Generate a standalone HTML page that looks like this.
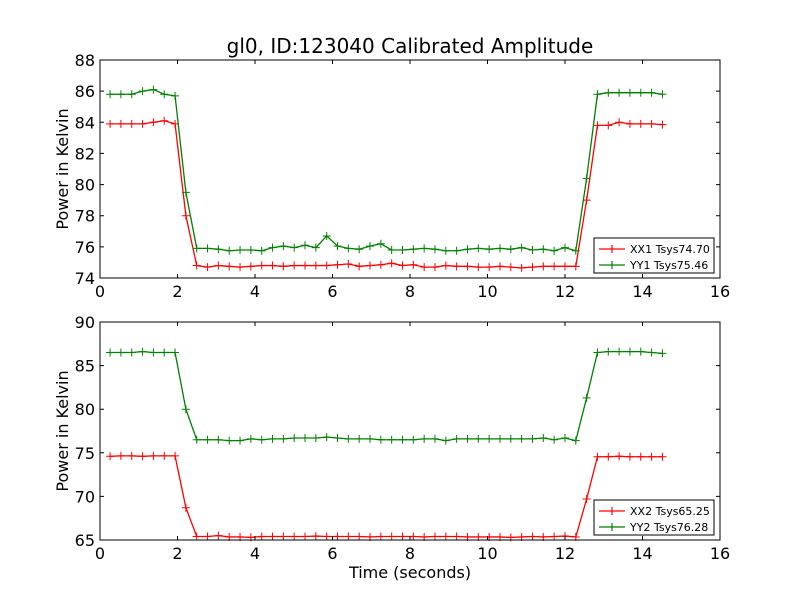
<!DOCTYPE html>
<html><head><meta charset="utf-8"><style>
body{margin:0;background:#fff;}
svg{display:block;font-family:"DejaVu Sans","Liberation Sans",sans-serif;}
</style></head><body>
<svg id="chart" width="800" height="600" viewBox="0 0 800 600"></svg>
<script>
const t0 = 0.26, dt = 0.2795;
const xx1 = [83.9,83.9,83.9,83.9,84.0,84.1,83.9, 78.0,
 74.8,74.7,74.8,74.75,74.7,74.75,74.8,74.8,74.75,74.8,
 74.8,74.8,74.8,74.85,74.9,74.75,74.8,74.85,74.95,74.8,
 74.85,74.7,74.7,74.8,74.75,74.75,74.7,74.7,74.75,74.7,
 74.65,74.7,74.75,74.75,74.75,74.75,
 79.0, 83.8,83.8,84.0,83.9,83.9,83.9,83.85];
const yy1 = [85.8,85.8,85.8,86.0,86.1,85.8,85.7, 79.5,
 75.9,75.9,75.85,75.75,75.8,75.8,75.75,75.95,76.05,75.95,76.1,75.95,
 76.7,
 76.05,75.9,75.85,76.05,76.2,75.8,75.8,75.85,75.9,75.85,
 75.75,75.75,75.85,75.9,75.85,75.9,75.85,75.95,75.8,75.85,
 75.75,75.95,75.75,
 80.4, 85.8,85.9,85.9,85.9,85.9,85.9,85.8];
const xx2 = [74.6,74.65,74.65,74.6,74.65,74.65,74.65, 68.7,
 65.4,65.4,65.5,65.35,65.35,65.3,65.4,65.4,65.4,65.4,
 65.4,65.45,65.4,65.4,65.4,65.4,65.35,65.4,65.4,65.4,
 65.4,65.35,65.4,65.4,65.4,65.35,65.35,65.35,65.35,65.3,
 65.35,65.4,65.35,65.4,65.45,65.35,
 69.7, 74.55,74.55,74.6,74.55,74.55,74.55,74.55];
const yy2 = [86.5,86.5,86.5,86.6,86.5,86.5,86.5, 80.0,
 76.5,76.5,76.5,76.4,76.4,76.6,76.5,76.6,76.6,76.7,
 76.7,76.7,76.8,76.7,76.6,76.6,76.6,76.5,76.5,76.5,
 76.5,76.6,76.6,76.4,76.6,76.6,76.6,76.6,76.6,76.6,
 76.6,76.6,76.7,76.5,76.7,76.4,
 81.3, 86.5,86.6,86.6,86.6,86.6,86.5,86.4];
const xTicks = [0,2,4,6,8,10,12,14,16];
const yTicks1 = [74,76,78,80,82,84,86,88];
const yTicks2 = [65,70,75,80,85,90];
const legend1 = ["XX1 Tsys74.70","YY1 Tsys75.46"];
const legend2 = ["XX2 Tsys65.25","YY2 Tsys76.28"];

const svg = document.getElementById('chart');
const NS = 'http://www.w3.org/2000/svg';
function mk(tag, attrs, parent){const e=document.createElementNS(NS,tag);for(const k in attrs)e.setAttribute(k,attrs[k]);(parent||svg).appendChild(e);return e;}

function panel(top, bottom, ymin, ymax, yTicks, s1, s2, leg, name){
  const L=100,R=720;
  const g = mk('g',{});
  
  
  const xs = v => L + (v-0)/(16-0)*(R-L);
  const ys = v => bottom - (v-ymin)/(ymax-ymin)*(bottom-top);
  [[s1,'#ff0000','xx'],[s2,'#008000','yy']].forEach(([s,c,nm])=>{
    const pts = s.map((v,i)=>xs(t0+i*dt).toFixed(2)+','+ys(v).toFixed(2)).join(' ');
    const pl = mk('polyline',{points:pts,fill:'none',stroke:c,'stroke-width':1.3},g);
    
    
    s.forEach((v,i)=>{
      const x=xs(t0+i*dt), y=ys(v);
      const m = mk('path',{d:`M${x-4} ${y}H${x+4}M${x} ${y-4}V${y+4}`,stroke:c,'stroke-width':1},g);
      
      
    });
  });
  const frame = mk('rect',{x:L,y:top,width:R-L,height:bottom-top,fill:'none',stroke:'#000','stroke-width':1},g);
  
  
  xTicks.forEach(v=>{
    const x=xs(v);
    mk('path',{d:`M${x} ${bottom}V${bottom-4}M${x} ${top}V${top+4}`,stroke:'#000'},g);
    const t=mk('text',{x:x,y:bottom+19,'text-anchor':'middle','font-size':16},g);
    t.textContent=v;
    
    
  });
  yTicks.forEach(v=>{
    const y=ys(v);
    mk('path',{d:`M${L} ${y}H${L+4}M${R} ${y}H${R-4}`,stroke:'#000'},g);
    const t=mk('text',{x:L-5,y:y+6,'text-anchor':'end','font-size':16},g);
    t.textContent=v;
    
    
  });
  const yl=mk('text',{x:0,y:0,'text-anchor':'middle','font-size':16,transform:`translate(68,${(top+bottom)/2}) rotate(-90)`},g);
  yl.textContent='Power in Kelvin';
  
  
  const lg = mk('g',{},g);
  
  
  mk('rect',{x:594,y:bottom-40,width:120,height:35,fill:'#fff',stroke:'#000'},lg);
  ['#ff0000','#008000'].forEach((c,i)=>{
    const y=bottom-29+i*16;
    mk('path',{d:`M599 ${y}H625M${612} ${y-4}V${y+4}`,stroke:c,'stroke-width':1.2},lg);
    const t=mk('text',{x:630,y:y+4,'font-size':11},lg);
    t.textContent=leg[i];
    
    
  });
}
panel(60,278,74,88,yTicks1,xx1,yy1,legend1,'top-panel');
panel(322,540,65,90,yTicks2,xx2,yy2,legend2,'bottom-panel');
const title=mk('text',{x:410,y:53,'text-anchor':'middle','font-size':20});
title.textContent='gl0, ID:123040 Calibrated Amplitude';


const xl=mk('text',{x:410,y:578,'text-anchor':'middle','font-size':16});
xl.textContent='Time (seconds)';


</script>
</body></html>
